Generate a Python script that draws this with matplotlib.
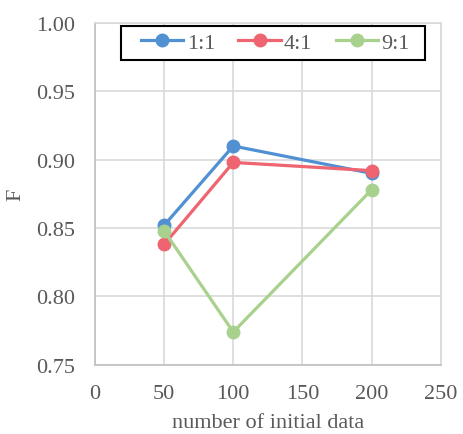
import matplotlib
matplotlib.use("Agg")
import matplotlib.pyplot as plt
from matplotlib.patches import Rectangle

n_initial = [50, 100, 200]
ratio_labels = ["1:1", "4:1", "9:1"]
f_1_1 = [0.852, 0.910, 0.890]
f_4_1 = [0.838, 0.898, 0.892]
f_9_1 = [0.848, 0.774, 0.878]
colors = ["#5090D3", "#EE6470", "#A9D18E"]

plt.rcParams["font.family"] = ["Liberation Serif", "DejaVu Serif"]

fig = plt.figure(figsize=(4.63, 4.35), dpi=100)
ax = fig.add_axes([0.205, 0.159, 0.747, 0.786])

for ys, lab, c in zip([f_1_1, f_4_1, f_9_1], ratio_labels, colors):
    ax.plot(n_initial, ys, color=c, lw=2.3, marker="o", ms=9, label=lab, zorder=3)

ax.set_xlim(0, 250)
ax.set_ylim(0.75, 1.00)
ax.set_xticks(range(0, 251, 50))
ax.set_yticks([0.75, 0.80, 0.85, 0.90, 0.95, 1.00])
ax.set_yticklabels([f"{v:.2f}" for v in ax.get_yticks()])
ax.grid(True, color="#D9D9D9", lw=1.2)
ax.set_axisbelow(True)
for s in ax.spines.values():
    s.set_color("#D9D9D9")
    s.set_linewidth(1.2)
ax.spines["left"].set_color("#BFBFBF")
ax.spines["bottom"].set_color("#BFBFBF")
ax.tick_params(axis="y", length=0, labelsize=16, labelcolor="#595959", pad=14)
ax.tick_params(axis="x", length=0, labelsize=16, labelcolor="#595959", pad=14)

ax.set_xlabel("number of initial data", fontsize=16, color="#595959", va="center")
ax.set_ylabel("F", fontsize=16, color="#595959", va="center")
ax.xaxis.set_label_coords(0.5, -0.168)
ax.yaxis.set_label_coords(-0.228, 0.5)

# legend box drawn separately so its padding matches the original
ax.add_patch(Rectangle((0.075, 0.892), 0.879, 0.099, transform=ax.transAxes,
                       facecolor="white", edgecolor="black", lw=1.5, zorder=4,
                       clip_on=False))
leg = ax.legend(loc="center", bbox_to_anchor=(0.522, 0.942), ncol=3, fontsize=16,
                frameon=False, handlelength=1.9, handletextpad=0.15,
                columnspacing=1.05, borderpad=0.0)
leg.set_zorder(5)
for t in leg.get_texts():
    t.set_color("#595959")

fig.savefig("out.png", dpi=100)
